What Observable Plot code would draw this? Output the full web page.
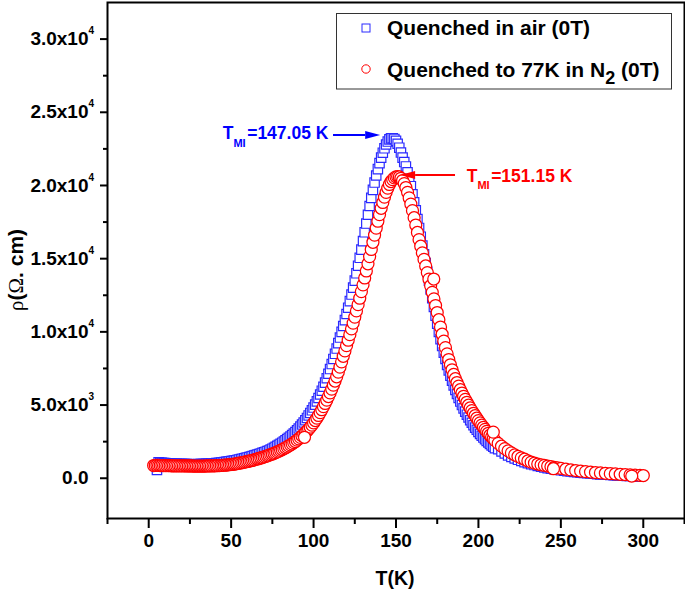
<!DOCTYPE html>
<html><head><meta charset="utf-8">
<script src="https://cdn.jsdelivr.net/npm/d3@7"></script>
<script src="https://cdn.jsdelivr.net/npm/@observablehq/plot@0.6"></script>
<style>body{margin:0;background:#fff} svg{display:block}</style>
</head><body><div id="chart"></div>
<script>
// ---- Data: Quenched in air (0T) ----
const airT = [5,6,7,8,9,10,11,12,13,14,15,16,17,18,19,20,21,22,23,24,25,26,27,28,29,30,31,32,33,34,35,36,37,38,39,40,41,42,43,44,45,46,47,48,49,50,51,52,53,54,55,56,57,58,59,60,61,62,63,64,65,66,67,68,69,70,71,72,73,74,75,76,77,78,79,80,81,82,83,84,85,86,87,88,89,90,91,92,93,94,95,96,97,98,99,100,101,102,103,104,105,106,107,108,109,110,111,112,113,114,115,116,117,118,119,120,121,122,123,124,125,126,127,128,129,130,131,132,133,134,135,136,137,138,139,140,141,142,143,144,145,146,147,148,149,150,151,152,153,154,155,156,157,158,159,160,161,162,163,164,165,166,167,168,169,170,171,172,173,174,175,176,177,178,179,180,181,182,183,184,185,186,187,188,189,190,191,192,193,194,195,196,197,198,199,200,201,202,203,204,205,206,207,208,209,210,212,214,216,218,220,222,224,226,228,230,232,234,236,238,240,242,244,246,248,250,252,254,256,258,260,262,264,266,268,270,272,274,276,278,280,282,284,286,288,290,292,294,296,298];
const airRho = [570,1090,1060,1050,1040,1030,1020,1010,1000,995,990,985,980,978,975,972,970,968,965,962,960,960,960,960,960,962,965,968,970,975,985,990,995,1000,1010,1020,1030,1043,1056,1070,1085,1100,1117,1134,1152,1170,1190,1212,1234,1258,1283,1310,1337,1365,1393,1421,1450,1482,1515,1549,1584,1620,1657,1695,1734,1773,1812,1855,1900,1958,2018,2080,2145,2212,2282,2355,2430,2510,2595,2680,2760,2850,2945,3050,3160,3280,3400,3530,3670,3810,3960,4120,4290,4460,4640,4830,5030,5250,5480,5720,5980,6250,6530,6830,7140,7460,7800,8150,8500,8860,9230,9610,10000,10400,10800,11220,11650,12100,12550,13020,13500,14000,14520,15060,15620,16200,16800,17400,18000,18600,19150,19700,20200,20680,21120,21530,21900,22240,22540,22800,23000,23150,23220,23230,23180,23050,22850,22580,22250,21900,21600,21300,20900,20450,19950,19400,18850,18300,17700,17100,16500,15900,15300,14700,14100,13500,12900,12300,11700,11100,10550,10000,9500,9030,8580,8150,7740,7360,7000,6660,6340,6040,5760,5490,5240,5000,4770,4550,4340,4150,3960,3790,3620,3460,3310,3170,3030,2900,2780,2660,2550,2440,2340,2240,2150,2060,1980,1830,1690,1560,1450,1350,1260,1180,1100,1030,965,900,840,785,735,690,650,612,577,544,513,484,457,431,407,384,362,341,321,302,284,267,251,236,222,209,197,185,174,163,153,143,134,125,117];

// ---- Data: Quenched to 77K in N2 (0T) ----
const n2T = [3,4,5,6,7,8,9,10,11,12,13,14,15,16,17,18,19,20,21,22,23,24,25,26,27,28,29,30,31,32,33,34,35,36,37,38,39,40,41,42,43,44,45,46,47,48,49,50,51,52,53,54,55,56,57,58,59,60,61,62,63,64,65,66,67,68,69,70,71,72,73,74,75,76,77,78,79,80,81,82,83,84,85,86,87,88,89,90,91,92,93,94,95,96,97,98,99,100,101,102,103,104,105,106,107,108,109,110,111,112,113,114,115,116,117,118,119,120,121,122,123,124,125,126,127,128,129,130,131,132,133,134,135,136,137,138,139,140,141,142,143,144,145,146,147,148,149,150,151,152,153,154,155,156,157,158,159,160,161,162,163,164,165,166,167,168,169,170,171,172,173,174,175,176,177,178,179,180,181,182,183,184,185,186,187,188,189,190,191,192,193,194,195,196,197,198,199,200,201,202,203,204,205,206,207,208,209,210,212,214,216,218,220,222,224,226,228,230,232,234,236,238,240,242,244,246,248,250,253,256,259,262,265,268,271,274,277,280,283,286,289,292,295,298,300,94.5,172.9,209,245.5,293];
const n2Rho = [870,875,880,875,870,868,865,862,860,858,855,852,850,849,848,846,845,843,842,841,840,839,838,837,836,835,835,835,835,835,835,836,838,840,842,845,848,851,855,860,865,872,880,890,900,912,925,940,955,972,990,1010,1030,1052,1075,1097,1120,1145,1170,1197,1225,1255,1285,1317,1350,1385,1420,1457,1495,1535,1575,1617,1660,1705,1750,1800,1850,1905,1960,2020,2080,2145,2210,2280,2350,2430,2510,2600,2690,2790,2890,3000,3110,3230,3360,3490,3630,3780,3940,4110,4290,4480,4680,4890,5110,5340,5580,5830,6090,6360,6640,6930,7250,7590,7950,8330,8700,9060,9430,9810,10200,10600,11010,11430,11860,12300,12750,13210,13680,14160,14650,15140,15630,16120,16610,17090,17560,18010,18440,18840,19200,19530,19820,20070,20270,20400,20520,20590,20610,20580,20490,20340,20130,19860,19530,19150,18730,18280,17800,17300,16790,16300,15850,15400,14950,14500,14050,13600,13150,12700,12250,11800,11320,10830,10330,9840,9370,8920,8500,8110,7750,7410,7090,6800,6540,6290,6050,5820,5600,5390,5190,4990,4800,4620,4440,4270,4100,3940,3780,3630,3480,3340,3200,3070,2940,2820,2700,2590,2380,2190,2020,1870,1730,1600,1490,1390,1300,1180,1100,1030,970,920,880,835,790,748,708,670,618,570,528,490,455,422,392,364,338,314,292,271,251,232,214,197,186,2800,13610,3150,650,150];

// ---- Axes ----
const xTicks = [0,50,100,150,200,250,300];
const xMinor = [-25,25,75,125,175,225,275,325];
const yTicks = [0,5000,10000,15000,20000,25000,30000];
const yTickMant = ["0.0","5.0x10","1.0x10","1.5x10","2.0x10","2.5x10","3.0x10"];
const yTickExp = ["","3","4","4","4","4","4"];
const yMinor = [2500,7500,12500,17500,22500,27500];

// ---- Annotations ----
const annLabels = ["=147.05 K", "=151.15 K"];
const annTextT = [45.2, 193.2];
const annTextRho = [23140, 20220];
const annFromT = [112.1, 186.1];
const annToT = [140.7, 152.8];
const annArrowRho = [23410, 20680];
const annColors = ["#0000ff", "#ff0000"];

const seriesNames = ["Quenched in air (0T)", "Quenched to 77K in N", "2", " (0T)"];

const air = airT.map((t, i) => ({T: t, rho: airRho[i]}));
const n2 = n2T.map((t, i) => ({T: t, rho: n2Rho[i]}));

const FONT = "'Liberation Sans', Arial, Helvetica, sans-serif";
const SERIF = "'Liberation Serif', 'DejaVu Serif', serif";

const plot = Plot.plot({
  width: 685, height: 591,
  marginLeft: 107, marginRight: 1, marginTop: 2, marginBottom: 73,
  style: {fontFamily: FONT, background: "white", overflow: "visible"},
  x: {domain: [-25, 325]},
  y: {domain: [-2750, 32500]},
  marks: [
    Plot.dot(air, {x: "T", y: "rho", symbol: "square", r: 5.3, stroke: "#2a2aff", fill: "white", strokeWidth: 1.2}),
    Plot.dot(n2, {x: "T", y: "rho", symbol: "circle", r: 6, stroke: "#ff0000", fill: "white", strokeWidth: 1.25}),
    Plot.axisX(xTicks, {tickSize: 10, strokeWidth: 2, fill: "none", label: null}),
    Plot.axisX(xMinor, {tickSize: 6, strokeWidth: 2, fill: "none", label: null}),
    Plot.axisY(yTicks, {tickSize: 7, strokeWidth: 2, fill: "none", label: null}),
    Plot.axisY(yMinor, {tickSize: 4, strokeWidth: 2, fill: "none", label: null}),
    Plot.text(xTicks, {x: d => d, frameAnchor: "bottom", dy: 28, text: d => String(d), fontSize: 19, fontWeight: "bold", fill: "black"}),
    Plot.text(yTicks, {y: d => d, frameAnchor: "left", dx: -19, textAnchor: "end", text: (d, i) => yTickMant[i], fontSize: 19, fontWeight: "bold", fill: "black"}),
    Plot.text(yTicks, {y: d => d, frameAnchor: "left", dx: -19, dy: -8, textAnchor: "start", text: (d, i) => yTickExp[i], fontSize: 10, fontWeight: "bold", fill: "black"}),
    Plot.frame({stroke: "black", strokeWidth: 2})
  ]
});

document.getElementById("chart").appendChild(plot);

const sx = plot.scale("x"), sy = plot.scale("y");
const svg = d3.select(plot);

// Annotations (arrows + labels)
annLabels.forEach((lab, i) => {
  const g = svg.append("g").attr("fill", annColors[i]).attr("stroke", "none");
  const x1 = sx.apply(annFromT[i]), x2 = sx.apply(annToT[i]), y = sy.apply(annArrowRho[i]);
  const dir = x2 > x1 ? 1 : -1;
  const base = x2 - dir * 15;
  g.append("line").attr("x1", x1).attr("y1", y).attr("x2", base).attr("y2", y)
    .attr("stroke", annColors[i]).attr("stroke-width", 2);
  g.append("path").attr("d", `M${x2},${y}L${base},${y - 4}L${base},${y + 4}Z`);
  const t = g.append("text").attr("x", sx.apply(annTextT[i])).attr("y", sy.apply(annTextRho[i]))
    .attr("text-anchor", "start")
    .attr("font-family", FONT).attr("font-weight", "bold").attr("font-size", 17.5);
  t.append("tspan").text("T");
  t.append("tspan").attr("font-size", 11).attr("dy", 7.5).text("MI");
  t.append("tspan").attr("dy", -7.5).attr("dx", 1.5).text(lab);
});

// Legend
const lg = svg.append("g").attr("font-family", FONT).attr("font-weight", "bold").attr("fill", "black")
  .attr("text-anchor", "start");
lg.append("rect").attr("x", 336.5).attr("y", 13.5).attr("width", 335).attr("height", 75.5)
  .attr("fill", "white").attr("stroke", "#333").attr("stroke-width", 1);
lg.append("rect").attr("x", 362).attr("y", 24).attr("width", 8).attr("height", 8)
  .attr("fill", "none").attr("stroke", "#2a2aff").attr("stroke-width", 1);
lg.append("circle").attr("cx", 366).attr("cy", 69).attr("r", 4.2)
  .attr("fill", "none").attr("stroke", "#ff0000").attr("stroke-width", 1);
lg.append("text").attr("x", 387).attr("y", 35).attr("font-size", 21).text(seriesNames[0]);
const l2 = lg.append("text").attr("x", 387).attr("y", 77).attr("font-size", 21);
l2.append("tspan").text(seriesNames[1]);
l2.append("tspan").attr("font-size", 18).attr("dy", 7).text(seriesNames[2]);
l2.append("tspan").attr("dy", -7).text(seriesNames[3]);

// Axis titles
svg.append("text").attr("x", 395).attr("y", 585).attr("text-anchor", "middle")
  .attr("font-family", FONT).attr("font-weight", "bold").attr("font-size", 19.5).attr("fill", "black").text("T(K)");
const yt = svg.append("text").attr("transform", "translate(23,270) rotate(-90)").attr("text-anchor", "middle")
  .attr("font-family", FONT).attr("font-weight", "bold").attr("font-size", 21).attr("fill", "black");
yt.append("tspan").attr("font-family", SERIF).attr("font-weight", "normal").text("ρ");
yt.append("tspan").text("(");
yt.append("tspan").attr("font-family", SERIF).attr("font-weight", "normal").text("Ω");
yt.append("tspan").text(". cm)");
</script>
</body></html>
